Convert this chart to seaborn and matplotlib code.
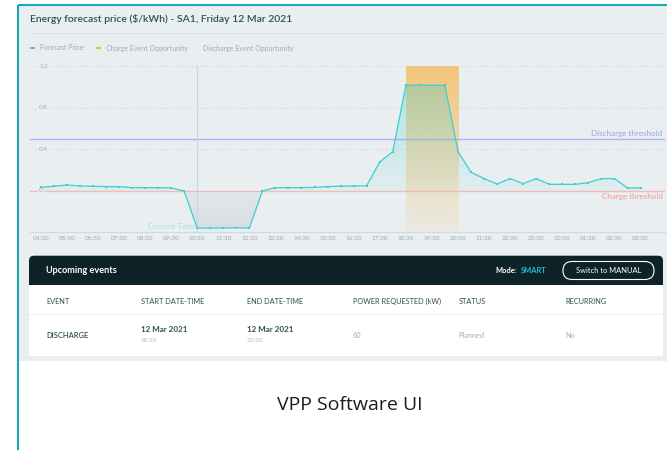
import numpy as np
import pandas as pd
import matplotlib
matplotlib.use("Agg")
import matplotlib.pyplot as plt
import seaborn as sns
from matplotlib.colors import LinearSegmentedColormap, to_rgb
from matplotlib.patches import Rectangle, FancyBboxPatch

# ---------------- data ----------------
times = list(pd.date_range("2021-03-12 04:30", periods=47, freq="30min").strftime("%H:%M"))
price = [0.035, 0.045, 0.058, 0.048, 0.045, 0.042, 0.042, 0.032, 0.032, 0.032,
         0.029, 0.0, -0.356, -0.356, -0.356, -0.353, -0.356, 0.0, 0.032, 0.032,
         0.032, 0.035, 0.042, 0.046, 0.048, 0.051, 0.279, 0.379, 1.014, 1.017,
         1.014, 1.014, 0.379, 0.18, 0.119, 0.067, 0.119, 0.071, 0.119, 0.064,
         0.064, 0.064, 0.080, 0.119, 0.119, 0.029, 0.029]
hour_labels = times[::2]
y_ticks = [0, 0.4, 0.8, 1.2]
y_tick_labels = ["0", "0.4", "0.8", "1.2"]
discharge_threshold = 0.5
charge_threshold = 0.0
event_start, event_end = "18:30", "20:30"
event_top = 1.2
current_time = "10:30"

legend_items = ["Forecast Price", "Charge Event Opportunity", "Discharge Event Opportunity"]
table_cols = ["EVENT", "START DATE-TIME", "END DATE-TIME", "POWER REQUESTED (kW)", "STATUS", "RECURRING"]
row_event = "DISCHARGE"
row_start = ("12 Mar 2021", "18:30")
row_end = ("12 Mar 2021", "20:30")
row_power = "60"
row_status = "Planned"
row_recurring = "No"

# ---------------- style ----------------
BG = "#e9eef0"
TEAL = "#1aa8b2"
CYAN = "#3ccfd2"
ORANGE = "#f6c170"
DARK = "#0e2328"
TXT = "#2f4f56"
GREY_TXT = "#9eaaae"

sns.set_style("white")
plt.rcParams['font.family'] = ['Lato', 'DejaVu Sans']

W, H = 667, 450
fig = plt.figure(figsize=(W / 100, H / 100), dpi=100)
fig.patch.set_facecolor("white")

# background/UI layer in pixel coordinates
bg = fig.add_axes([0, 0, 1, 1], zorder=0)
bg.set_xlim(0, W)
bg.set_ylim(H, 0)
bg.axis("off")

bg.add_patch(Rectangle((19, 5.5), W - 19, 355, color=BG, lw=0))
bg.plot([18, 18], [5, H], color=TEAL, lw=1.5, solid_capstyle="butt")
bg.plot([18, W], [5, 5], color=TEAL, lw=1.5, solid_capstyle="butt")

bg.text(30, 18.5, "Energy forecast price ($/kWh) - SA1, Friday 12 Mar 2021",
        fontsize=7.5, color=TXT, va="center", ha="left", fontweight="semibold")
bg.plot([30, 665], [33, 33], color="#dbe1e4", lw=0.8)

# legend row
bg.plot([30, 34.5], [48, 48], color="#2ec6d2", lw=1.3, solid_capstyle="butt")
bg.text(40, 48, legend_items[0], fontsize=5.0, color=GREY_TXT, va="center")
bg.plot([96, 101], [48, 48], color="#f5b22c", lw=1.3, solid_capstyle="butt")
bg.text(105.5, 48, legend_items[1], fontsize=5.0, color=GREY_TXT, va="center")
bg.text(203, 48, legend_items[2], fontsize=5.0, color=GREY_TXT, va="center")

# upcoming events panel
bg.add_patch(FancyBboxPatch((29, 255.7), 634, 40, boxstyle="round,pad=0,rounding_size=5",
                            facecolor=DARK, edgecolor="none"))
bg.add_patch(Rectangle((29, 285), 634, 70.7, facecolor="white", edgecolor="none"))
bg.plot([29, 663], [314.3, 314.3], color="#edf0f1", lw=0.8)
bg.text(45.5, 270.7, "Upcoming events", fontsize=6.6, color="white", fontweight="bold", va="center")
bg.text(495, 270.7, "Mode:", fontsize=5.4, color="white", fontweight="bold", va="center")
bg.text(521, 270.7, "SMART", fontsize=5.4, color="#2bb6e2", fontweight="bold", va="center")
bg.add_patch(FancyBboxPatch((563, 261.5), 91, 18, boxstyle="round,pad=0,rounding_size=9",
                            facecolor="none", edgecolor="white", lw=0.8))
bg.text(608.5, 270.5, "Switch to MANUAL", fontsize=5.4, color="white", ha="center", va="center")

col_x = [46, 140.7, 246.7, 352.7, 458.3, 565]
for cx, name in zip(col_x, table_cols):
    bg.text(cx, 301, name, fontsize=5.3, color=TXT, va="center")
bg.text(col_x[0], 336, row_event, fontsize=5.4, color=TXT, va="center", fontweight="semibold")
for cx, (d, t) in zip(col_x[1:3], [row_start, row_end]):
    bg.text(cx, 330, d, fontsize=5.8, color=TXT, va="center", fontweight="bold")
    bg.text(cx, 341, t, fontsize=4.6, color="#b4bdc0", va="center")
for cx, val in zip(col_x[3:], [row_power, row_status, row_recurring]):
    bg.text(cx, 336, val, fontsize=5.3, color="#a5afb2", va="center")

bg.text(350, 405, "VPP Software UI", fontsize=14, color="#1c1c1c", ha="center", va="center",
        family=["Open Sans", "DejaVu Sans"])

# ---------------- chart ----------------
px_per_unit = 125 / 1.2
y_lo = -(232 - 191) / px_per_unit
y_hi = (191 - 60) / px_per_unit
x_lo = -(40.7 - 30) / 13.04
x_hi = (665 - 40.7) / 13.04

ax = fig.add_axes([30 / W, 1 - 232 / H, 635 / W, 172 / H], zorder=1)
ax.set_facecolor("none")

df = pd.DataFrame({"time": times, "price": price})
df["pos"] = np.arange(len(df))

# dashed grid
for v in y_ticks[1:]:
    ax.axhline(v, color="#d3d9dc", lw=0.6, ls=(0, (3, 3)), zorder=0.5)

grad = np.linspace(0, 1, 256).reshape(-1, 1)

# charge event opportunity band
ev0, ev1 = times.index(event_start), times.index(event_end)
yel_cmap = LinearSegmentedColormap.from_list(
    "yel", [(*to_rgb(ORANGE), 0.1), (*to_rgb(ORANGE), 0.5), (*to_rgb(ORANGE), 0.92)])
ax.imshow(grad, extent=(ev0, ev1, y_lo, event_top), origin="lower", cmap=yel_cmap,
          aspect="auto", zorder=1, interpolation="bilinear")

# thresholds
ax.axhline(discharge_threshold, color="#aeb0f6", lw=1.0, zorder=1.5)
ax.axhline(charge_threshold, color="#efbcbc", lw=1.0, zorder=1.5)
ax.text(x_hi - 0.2, discharge_threshold + 0.015, "Discharge threshold", fontsize=5.8,
        color="#a09fe9", ha="right", va="bottom")
ax.text(x_hi - 0.2, charge_threshold - 0.015, "Charge threshold", fontsize=5.8,
        color="#f39b9b", ha="right", va="top")

# gradient area fills
pos_part = df["price"].clip(lower=0)
neg_part = df["price"].clip(upper=0)
coll_pos = ax.fill_between(df["pos"], pos_part, 0, facecolor="none", edgecolor="none")
coll_neg = ax.fill_between(df["pos"], neg_part, 0, facecolor="none", edgecolor="none")

cy_cmap = LinearSegmentedColormap.from_list(
    "cy", [(*to_rgb(CYAN), 0.04), (*to_rgb(CYAN), 0.34)])
im_pos = ax.imshow(grad, extent=(x_lo, x_hi, 0, max(price)), origin="lower", cmap=cy_cmap,
                   aspect="auto", zorder=2, interpolation="bilinear")
im_pos.set_clip_path(coll_pos.get_paths()[0], ax.transData)

gr_cmap = LinearSegmentedColormap.from_list(
    "gr", [(0.6, 0.64, 0.67, 0.22), (0.6, 0.64, 0.67, 0.08)])
im_neg = ax.imshow(grad, extent=(x_lo, x_hi, min(price), 0), origin="lower", cmap=gr_cmap,
                   aspect="auto", zorder=2, interpolation="bilinear")
im_neg.set_clip_path(coll_neg.get_paths()[0], ax.transData)

# current time marker
cur = times.index(current_time)
ax.vlines(cur, y_lo, event_top, color="#c6d6db", lw=0.8, zorder=3)
ax.text(cur - 0.15, -0.345, "Current Time", fontsize=5.8, color="#a3e2e5",
        ha="right", va="center", zorder=3)

# forecast price line
sns.lineplot(data=df, x="pos", y="price", ax=ax, color=CYAN, lw=0.9, marker="s",
             markersize=2.0, markeredgewidth=0, zorder=5)

# y tick labels drawn on the grid
for v, lab in zip(y_ticks, y_tick_labels):
    ax.text(-0.13, v, lab, fontsize=4.6, color=GREY_TXT, ha="left", va="center", zorder=4,
            bbox=dict(facecolor=BG, edgecolor="none", pad=0.6))

ax.set_xlim(x_lo, x_hi)
ax.set_ylim(y_lo, y_hi)
ax.set_xticks(df["pos"][::2])
ax.set_xticklabels(hour_labels)
ax.set_yticks([])
ax.tick_params(axis="x", length=0, labelsize=4.6, colors=GREY_TXT, pad=3.0)
ax.set_xlabel("")
ax.set_ylabel("")
for s in ["top", "left", "right"]:
    ax.spines[s].set_visible(False)
ax.spines["bottom"].set_color("#d3d9dc")
ax.spines["bottom"].set_linewidth(0.8)

fig.savefig("out.png", dpi=100, facecolor="white")
